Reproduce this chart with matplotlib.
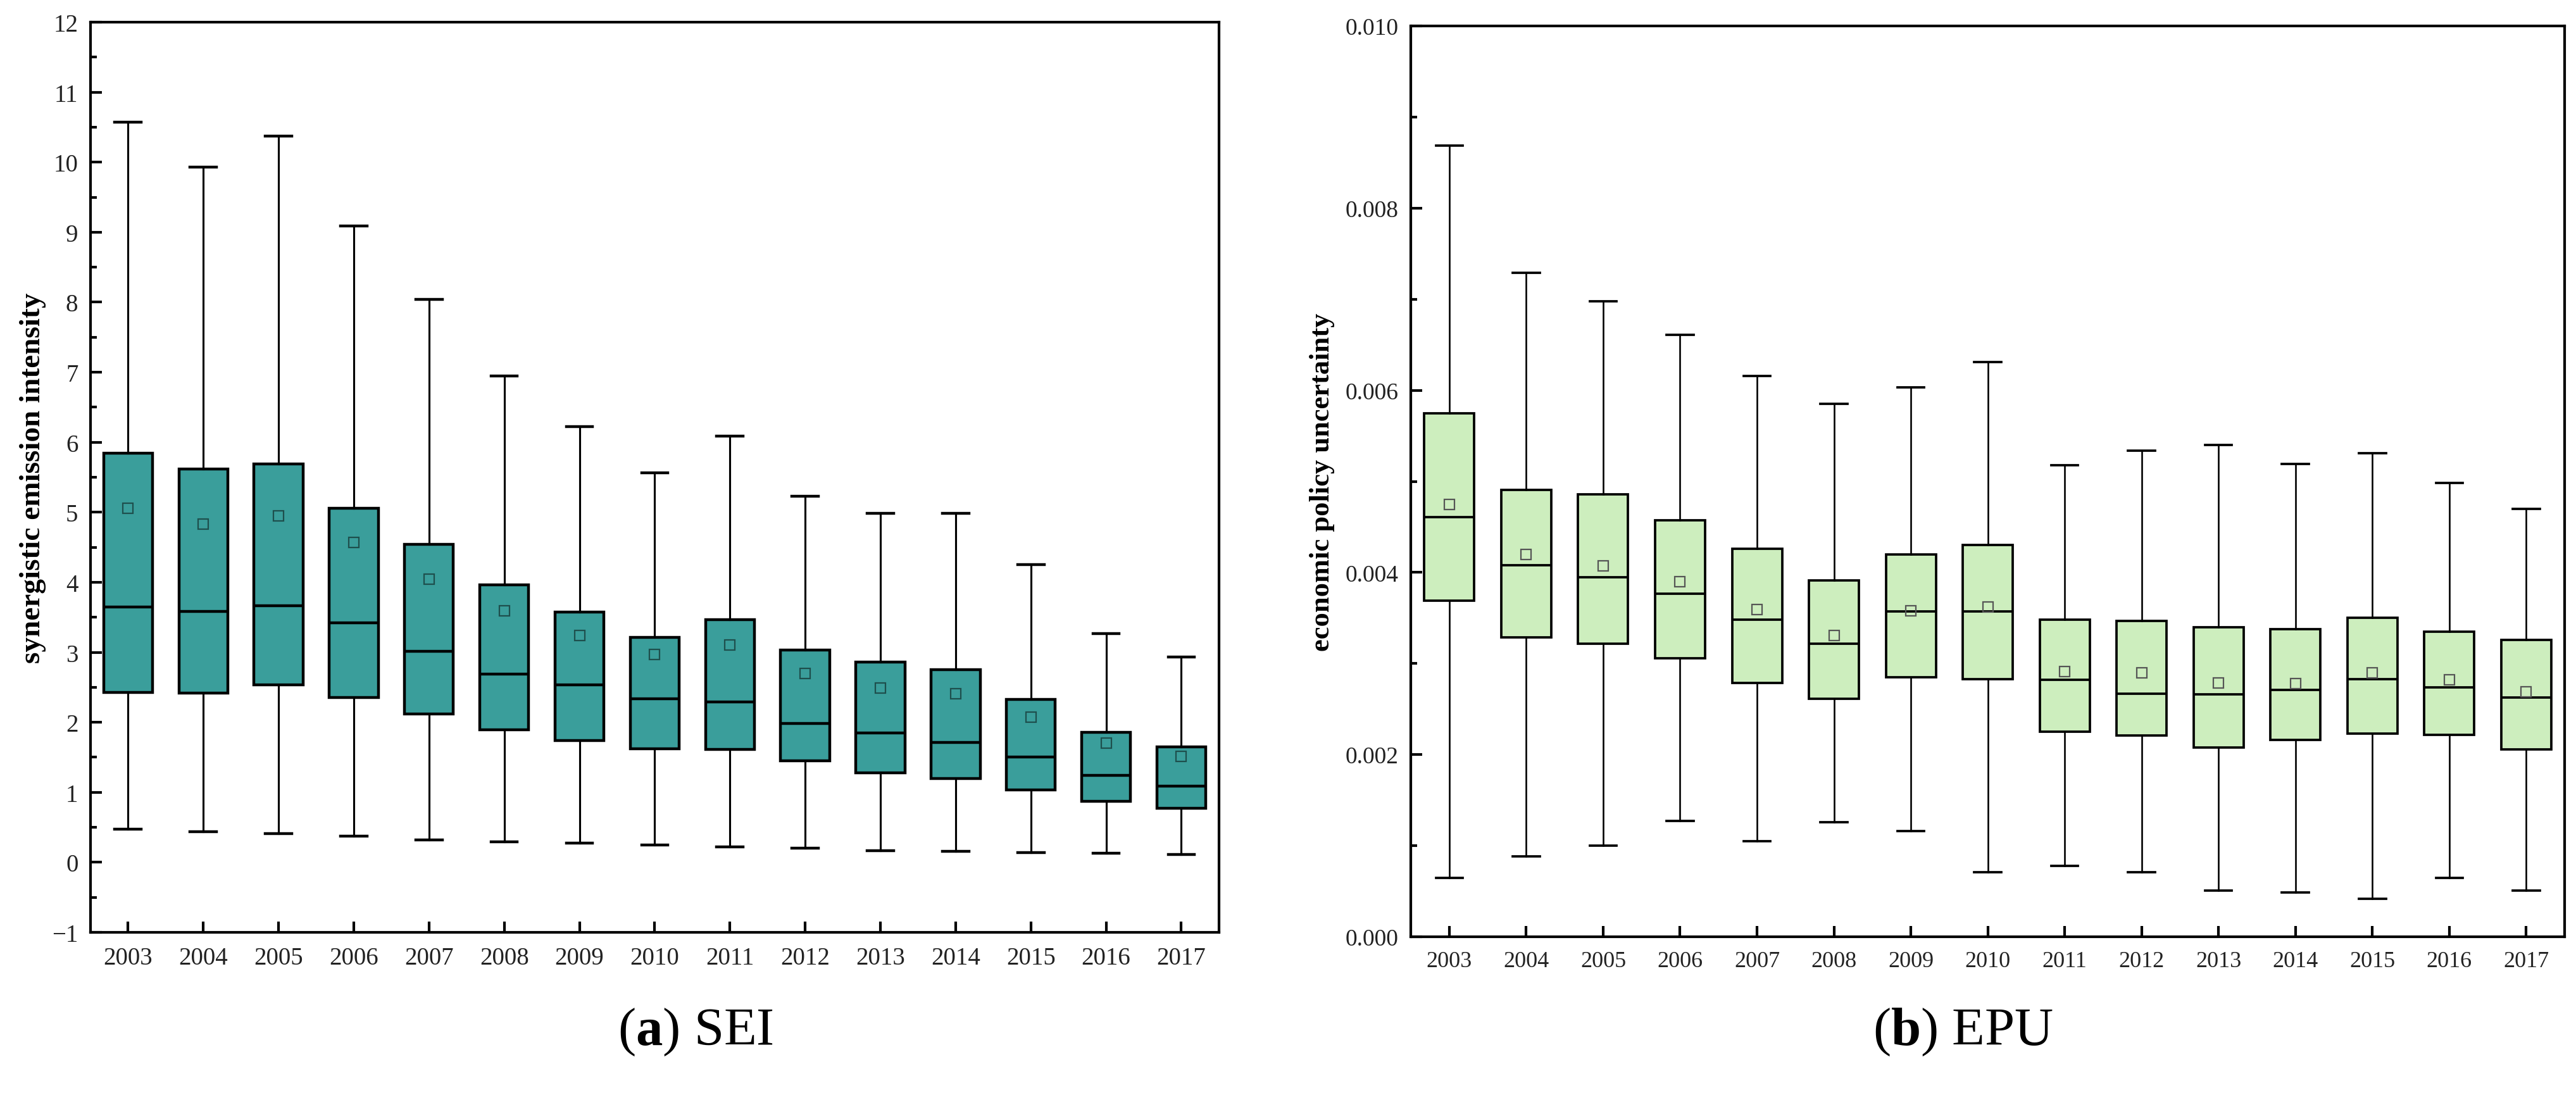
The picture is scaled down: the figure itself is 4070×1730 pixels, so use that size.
import matplotlib
matplotlib.use("Agg")
import matplotlib.pyplot as plt
from matplotlib.ticker import MultipleLocator, FormatStrFormatter

plt.rcParams['font.family'] = ['Liberation Serif', 'DejaVu Serif']
plt.rcParams['mathtext.fontset'] = 'custom'
plt.rcParams['mathtext.rm'] = 'Liberation Serif'
plt.rcParams['mathtext.bf'] = 'Liberation Serif:bold'

years = [str(y) for y in range(2003, 2018)]

# SEI box statistics
sei_whislo = [0.47, 0.44, 0.41, 0.37, 0.32, 0.29, 0.27, 0.25, 0.22, 0.20, 0.17, 0.16, 0.14, 0.13, 0.11]
sei_q1 = [2.43, 2.42, 2.53, 2.35, 2.12, 1.89, 1.74, 1.62, 1.61, 1.45, 1.28, 1.20, 1.03, 0.87, 0.77]
sei_med = [3.65, 3.58, 3.66, 3.42, 3.01, 2.69, 2.53, 2.34, 2.29, 1.98, 1.85, 1.71, 1.50, 1.24, 1.09]
sei_q3 = [5.84, 5.62, 5.69, 5.06, 4.54, 3.96, 3.57, 3.21, 3.47, 3.03, 2.86, 2.75, 2.33, 1.86, 1.65]
sei_whishi = [10.57, 9.93, 10.37, 9.09, 8.04, 6.95, 6.22, 5.56, 6.09, 5.23, 4.98, 4.98, 4.25, 3.27, 2.93]
sei_mean = [5.06, 4.83, 4.95, 4.57, 4.04, 3.59, 3.24, 2.97, 3.10, 2.70, 2.49, 2.41, 2.07, 1.70, 1.51]

# EPU box statistics
epu_whislo = [0.00065, 0.00088, 0.00100, 0.00127, 0.00105, 0.00126, 0.00116, 0.00071, 0.00078,
              0.00071, 0.00051, 0.00049, 0.00042, 0.00065, 0.00051]
epu_q1 = [0.00369, 0.00329, 0.00322, 0.00306, 0.00279, 0.00261, 0.00285, 0.00283, 0.00225,
          0.00221, 0.00208, 0.00216, 0.00223, 0.00222, 0.00206]
epu_med = [0.00461, 0.00408, 0.00395, 0.00377, 0.00348, 0.00322, 0.00357, 0.00357, 0.00282,
           0.00267, 0.00266, 0.00271, 0.00283, 0.00274, 0.00263]
epu_q3 = [0.00575, 0.00491, 0.00486, 0.00457, 0.00426, 0.00391, 0.00420, 0.00430, 0.00348,
          0.00347, 0.00340, 0.00338, 0.00350, 0.00335, 0.00326]
epu_whishi = [0.00869, 0.00729, 0.00698, 0.00661, 0.00616, 0.00585, 0.00603, 0.00631, 0.00518,
              0.00534, 0.00540, 0.00519, 0.00531, 0.00498, 0.00470]
epu_mean = [0.00475, 0.00420, 0.00407, 0.00390, 0.00359, 0.00331, 0.00358, 0.00362, 0.00291,
            0.00290, 0.00279, 0.00278, 0.00290, 0.00282, 0.00269]


def make_stats(lo, q1, med, q3, hi, mean):
    return [dict(whislo=a, q1=b, med=c, q3=d, whishi=e, mean=f, fliers=[])
            for a, b, c, d, e, f in zip(lo, q1, med, q3, hi, mean)]


def draw_panel(ax, stats, fill, mean_edge, ylabel, lw, fs, ms):
    pos = list(range(1, len(stats) + 1))
    ax.bxp(stats, positions=pos, widths=0.65, capwidths=0.35, patch_artist=True,
           showmeans=True, showfliers=False,
           boxprops=dict(facecolor=fill, edgecolor='black', linewidth=lw),
           medianprops=dict(color='black', linewidth=lw),
           whiskerprops=dict(color='black', linewidth=lw * 0.7),
           capprops=dict(color='black', linewidth=lw),
           meanprops=dict(marker='s', markerfacecolor='none', markeredgecolor=mean_edge,
                          markeredgewidth=1.6, markersize=ms))
    ax.set_xlim(0.5, len(stats) + 0.5)
    ax.set_xticks(pos)
    ax.set_xticklabels(years)
    for s in ax.spines.values():
        s.set_linewidth(3.0)
    ax.tick_params(axis='both', which='both', direction='in', labelsize=fs,
                   labelcolor='#222222', top=False, right=False)
    ax.tick_params(axis='y', which='major', length=13, width=3.0, pad=14)
    ax.tick_params(axis='y', which='minor', length=7, width=3.0)
    ax.tick_params(axis='x', which='major', length=12, width=3.0, pad=16)
    ax.tick_params(axis='x', which='minor', bottom=False)
    ax.set_ylabel(ylabel, fontweight='bold')


fig = plt.figure(figsize=(40.7, 17.31), dpi=100)

ax1 = fig.add_axes([0.0351, 0.1485, 0.4381, 0.8307])
draw_panel(ax1, make_stats(sei_whislo, sei_q1, sei_med, sei_q3, sei_whishi, sei_mean),
           '#3a9e9b', '#1e4f4d', 'synergistic emission intensity', 3.2, 28, 12)
ax1.set_ylim(-1, 12)
ax1.yaxis.set_major_locator(MultipleLocator(1))
ax1.yaxis.set_minor_locator(MultipleLocator(0.5))
ax1.yaxis.label.set_fontsize(34)
ax1.yaxis.set_label_coords(-0.039, 0.5)

ax2 = fig.add_axes([0.5477, 0.1444, 0.4479, 0.8313])
draw_panel(ax2, make_stats(epu_whislo, epu_q1, epu_med, epu_q3, epu_whishi, epu_mean),
           '#cdeebe', '#555555', 'economic policy uncertainty', 2.7, 26, 11)
ax2.set_ylim(0, 0.010)
ax2.yaxis.set_major_locator(MultipleLocator(0.002))
ax2.yaxis.set_minor_locator(MultipleLocator(0.001))
ax2.yaxis.set_major_formatter(FormatStrFormatter('%.3f'))
ax2.tick_params(axis='y', labelsize=27)
ax2.yaxis.label.set_fontsize(32)
ax2.yaxis.set_label_coords(-0.066, 0.5)

fig.text(0.270, 0.0578, r'($\mathbf{a}$) SEI', fontsize=61, ha='center', va='center')
fig.text(0.762, 0.0578, r'($\mathbf{b}$) EPU', fontsize=61, ha='center', va='center')

fig.savefig('out.png', dpi=100, facecolor='white')
